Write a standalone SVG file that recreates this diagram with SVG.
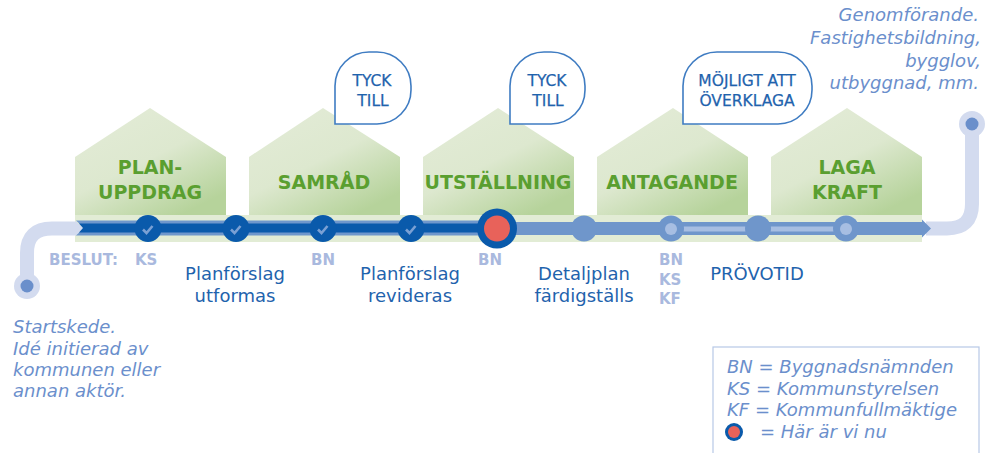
<svg xmlns="http://www.w3.org/2000/svg" width="986" height="453" viewBox="0 0 986 453">
<defs>
<linearGradient id="hg" x1="0" y1="0" x2="0.7" y2="1">
<stop offset="0" stop-color="#e4ecd8"/>
<stop offset="0.55" stop-color="#dde8cf"/>
<stop offset="1" stop-color="#b6d39b"/>
</linearGradient>
<g id="chk"><path d="M-5 0 L-1.5 3.5 L4.5 -3.5" fill="none" stroke="#7aa0d4" stroke-width="2.6"/></g>
</defs>
<style>
.house{fill:url(#hg)}
.hl{font-family:"DejaVu Sans",Verdana,sans-serif;font-weight:bold;font-size:19px;fill:#5a9f30;text-anchor:middle}
.bub{fill:#fff;stroke:#3f7cc2;stroke-width:1.6}
.bt{font-family:"DejaVu Sans",Verdana,sans-serif;font-size:15.5px;fill:#1f63ad;text-anchor:middle;stroke:#1f63ad;stroke-width:0.25}
.st{font-family:"DejaVu Sans",Verdana,sans-serif;font-size:18px;fill:#1f63ad;text-anchor:middle}
.dec{font-family:"DejaVu Sans",Verdana,sans-serif;font-weight:bold;font-size:15px;fill:#a9b9de}
.it{font-family:"DejaVu Sans",Verdana,sans-serif;font-style:italic;font-size:18px;fill:#6b8fcc}
.dk{fill:#0a5aab}
.md{fill:#6f96cb}
.pale{fill:none;stroke:#d3dbef;stroke-width:14}
</style>

<rect x="75" y="215" width="847" height="27" fill="#e2ecd5"/>

<g id="house-planuppdrag">
<path class="house" d="M75 157 L150 108 L226 157 V215 H75 Z"/>
<text class="hl" x="150" y="174">PLAN-</text>
<text class="hl" x="150" y="199">UPPDRAG</text>
</g>
<g id="house-samrad">
<path class="house" d="M249 157 L323 108 L400 157 V215 H249 Z"/>
<text class="hl" x="324" y="189">SAMRÅD</text>
</g>
<g id="house-utstallning">
<path class="house" d="M423 157 L498 108 L574 157 V215 H423 Z"/>
<text class="hl" x="498" y="189">UTSTÄLLNING</text>
</g>
<g id="house-antagande">
<path class="house" d="M597 157 L673 108 L748 157 V215 H597 Z"/>
<text class="hl" x="672" y="189">ANTAGANDE</text>
</g>
<g id="house-laga-kraft">
<path class="house" d="M771 157 L847 108 L922 157 V215 H771 Z"/>
<text class="hl" x="847" y="174">LAGA</text>
<text class="hl" x="847" y="199">KRAFT</text>
</g>

<g id="bubble-tyck1">
<path class="bub" d="M335 124 V86 A34 34 0 0 1 369 52 H377 A34 34 0 0 1 411 86 V90 A34 34 0 0 1 377 124 Z"/>
<text class="bt" x="372" y="85.5">TYCK</text>
<text class="bt" x="373" y="106">TILL</text>
</g>
<g id="bubble-tyck2">
<path class="bub" d="M510 124 V86 A34 34 0 0 1 544 52 H551 A34 34 0 0 1 585 86 V90 A34 34 0 0 1 551 124 Z"/>
<text class="bt" x="547" y="85.5">TYCK</text>
<text class="bt" x="548" y="106">TILL</text>
</g>
<g id="bubble-overklaga">
<path class="bub" d="M683 124 V86 A34 34 0 0 1 717 52 H778 A34 34 0 0 1 812 86 V90 A34 34 0 0 1 778 124 Z"/>
<text class="bt" x="747" y="85.5">MÖJLIGT ATT</text>
<text class="bt" x="747" y="106">ÖVERKLAGA</text>
</g>

<g id="connectors">
<path class="pale" d="M27 286 V253 Q27 228.5 52 228.5 H77"/>
<path d="M76 221.5 L84 228.5 L76 235.5 Z" fill="#d3dbef"/>
<path class="pale" d="M926 228.5 H947 Q972 228.5 972 204 V124"/>
<path d="M76 220.5 H497 V235.5 H76 L84 228 Z" fill="#6f97cc"/>
<path d="M79 223.5 H497 V232.5 H79 L83 228 Z" class="dk"/>
<path d="M497 222 H922 V219.5 L931 228.5 L922 237.5 V235 H497 Z" class="md"/>
<rect x="671" y="226.5" width="175" height="5" fill="#a7bee2"/>
</g>

<g id="start">
<circle cx="27" cy="286" r="13" fill="#d3dbef"/>
<circle cx="27" cy="286" r="6.5" fill="#6a8fcb"/>
</g>
<g id="end">
<circle cx="972" cy="124" r="13" fill="#d3dbef"/>
<circle cx="972" cy="124" r="6.5" fill="#6a8fcb"/>
</g>

<g id="m1"><circle class="dk" cx="148" cy="228.5" r="13.5"/><use href="#chk" x="148" y="229.5"/></g>
<g id="m2"><circle class="dk" cx="236" cy="228.5" r="13.5"/><use href="#chk" x="236" y="229.5"/></g>
<g id="m3"><circle class="dk" cx="323" cy="228.5" r="13.5"/><use href="#chk" x="323" y="229.5"/></g>
<g id="m4"><circle class="dk" cx="411" cy="228.5" r="13.5"/><use href="#chk" x="411" y="229.5"/></g>
<g id="m5-now"><circle class="dk" cx="497" cy="228.5" r="20"/><circle cx="497" cy="228.5" r="13" fill="#e8625a"/></g>
<g id="m6"><circle class="md" cx="584" cy="228.5" r="13"/></g>
<g id="m7"><circle class="md" cx="671" cy="228.5" r="13"/><circle cx="671" cy="229" r="6" fill="#a7bee2"/></g>
<g id="m8"><circle class="md" cx="758" cy="228.5" r="13"/></g>
<g id="m9"><circle class="md" cx="846" cy="228.5" r="13"/><circle cx="846" cy="229" r="6" fill="#a7bee2"/></g>

<g id="decisions">
<text class="dec" x="49" y="265">BESLUT:</text>
<text class="dec" x="135" y="265">KS</text>
<text class="dec" x="311" y="265">BN</text>
<text class="dec" x="478" y="265">BN</text>
<text class="dec" x="659" y="265">BN</text>
<text class="dec" x="659" y="285">KS</text>
<text class="dec" x="659" y="304">KF</text>
</g>

<g id="steps">
<text class="st" x="235" y="280">Planförslag</text>
<text class="st" x="235" y="302">utformas</text>
<text class="st" x="410" y="280">Planförslag</text>
<text class="st" x="410" y="302">revideras</text>
<text class="st" x="584" y="280">Detaljplan</text>
<text class="st" x="584" y="302">färdigställs</text>
<text class="st" x="757" y="280">PRÖVOTID</text>
</g>

<g id="start-text">
<text class="it" x="13" y="333">Startskede.</text>
<text class="it" x="13" y="355">Idé initierad av</text>
<text class="it" x="13" y="376">kommunen eller</text>
<text class="it" x="13" y="397">annan aktör.</text>
</g>

<g id="end-text">
<text class="it" x="979" y="21" text-anchor="end">Genomförande.</text>
<text class="it" x="981" y="44" text-anchor="end">Fastighetsbildning,</text>
<text class="it" x="981" y="67" text-anchor="end">bygglov,</text>
<text class="it" x="979" y="89" text-anchor="end">utbyggnad, mm.</text>
</g>

<g id="legend">
<rect x="713" y="347" width="266" height="120" fill="#fff" stroke="#b7c9e6" stroke-width="1.2"/>
<text class="it" x="727" y="373">BN = Byggnadsnämnden</text>
<text class="it" x="727" y="395">KS = Kommunstyrelsen</text>
<text class="it" x="727" y="416">KF = Kommunfullmäktige</text>
<circle class="dk" cx="734" cy="432" r="9"/>
<circle cx="734" cy="432" r="6" fill="#e8625a"/>
<text class="it" x="760" y="438">= Här är vi nu</text>
</g>
</svg>
